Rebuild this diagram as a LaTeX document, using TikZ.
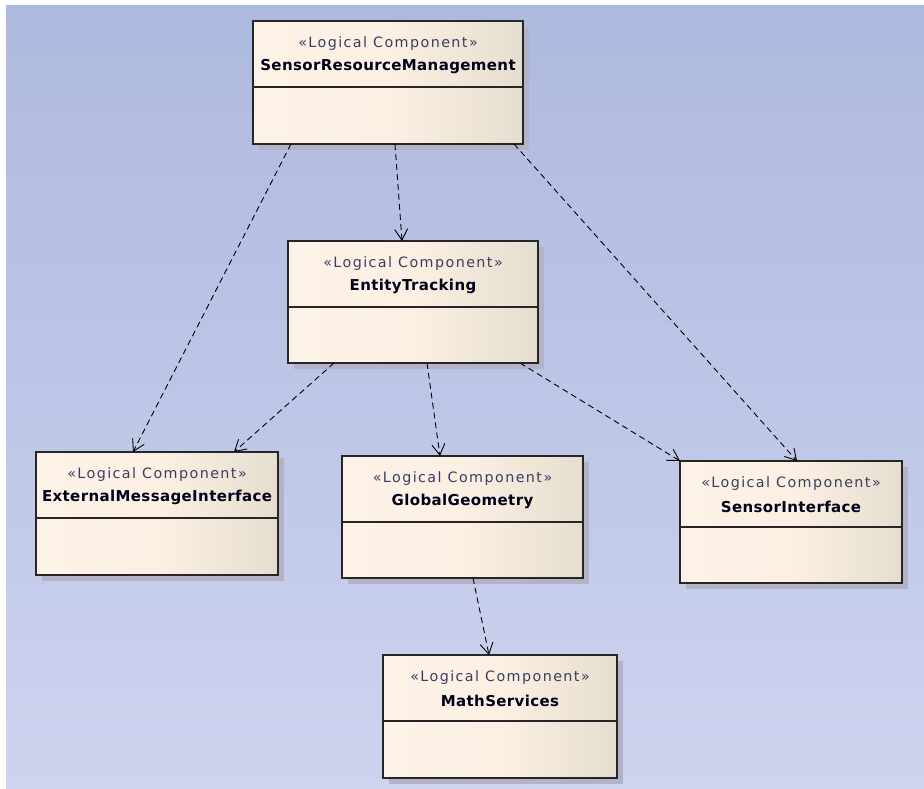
\documentclass[tikz,border=0pt]{standalone}
\usepackage{fontspec}
\setmainfont{DejaVu Sans}
\newfontfamily\stereofont[LetterSpace=10]{DejaVu Sans}
\newfontfamily\namefont[LetterSpace=2.5]{DejaVu Sans}
\usetikzlibrary{arrows.meta,calc,shadows}
\definecolor{bgtop}{HTML}{ADB9DE}
\definecolor{bgbot}{HTML}{CED3EF}
\definecolor{boxl}{HTML}{FDF2E7}
\definecolor{boxm}{HTML}{FCF0E3}
\definecolor{boxr}{HTML}{E5DECF}
\definecolor{shadowc}{HTML}{B4B2C6}
\definecolor{stereoc}{HTML}{3A3D62}
\tikzset{
  comp/.style={draw=black!85, line width=1.3pt, left color=boxl, right color=boxr, middle color=boxm,
    anchor=north west, inner sep=0pt, outer sep=0pt,
    drop shadow={shadow xshift=6pt, shadow yshift=-6pt, fill=shadowc, opacity=1}},
  divider/.style={draw=black!85, line width=1.3pt},
  stereo/.style={font=\stereofont\fontsize{14.3}{16}\selectfont, text=stereoc, inner sep=0pt},
  cname/.style={font=\namefont\fontsize{15}{17}\selectfont\bfseries, text=black!90!blue, inner sep=0pt},
  dep/.style={draw=black, line width=0.9pt, dash pattern=on 6pt off 4pt,
    -{Straight Barb[length=11pt,width=13pt,line width=0.9pt]}}
}
\newcommand{\lcomp}[6]{%
  \node[comp, minimum width=#4pt, minimum height=#5pt] (#1) at (#2,#3) {};
  \draw[divider] ([yshift=-66pt]#1.north west) -- ([yshift=-66pt]#1.north east);
  \node[stereo] (#1-st) at ([yshift=-23pt]#1.north) {«Logical Component»};
  \node[cname] (#1-nm) at ([yshift=-45.5pt]#1.north) {#6};
}
\begin{document}
\begin{tikzpicture}[x=1pt,y=-1pt]
\useasboundingbox (0,0) rectangle (924,789);
\fill[top color=bgtop, bottom color=bgbot] (6,6) rectangle (924,789);
\lcomp{srm}{253}{21}{270}{123}{SensorResourceManagement}
\lcomp{et}{288}{241}{250}{122}{EntityTracking}
\lcomp{emi}{36}{452}{242}{123}{ExternalMessageInterface}
\lcomp{gg}{342}{456}{241}{122}{GlobalGeometry}
\lcomp{si}{680}{461}{222}{122}{SensorInterface}
\lcomp{ms}{383}{655}{234}{123}{MathServices}
\draw[dep] ([xshift=38pt]srm.south west) -- ([xshift=97pt]emi.north west);
\draw[dep] ([xshift=142pt]srm.south west) -- ([xshift=114pt]et.north west);
\draw[dep] ([xshift=261pt]srm.south west) -- ([xshift=117pt]si.north west);
\draw[dep] ([xshift=46pt]et.south west) -- ([xshift=198pt]emi.north west);
\draw[dep] ([xshift=139pt]et.south west) -- ([xshift=98pt]gg.north west);
\draw[dep] ([xshift=232pt]et.south west) -- (si.north west);
\draw[dep] ([xshift=131pt]gg.south west) -- ([xshift=106pt]ms.north west);
\end{tikzpicture}
\end{document}
